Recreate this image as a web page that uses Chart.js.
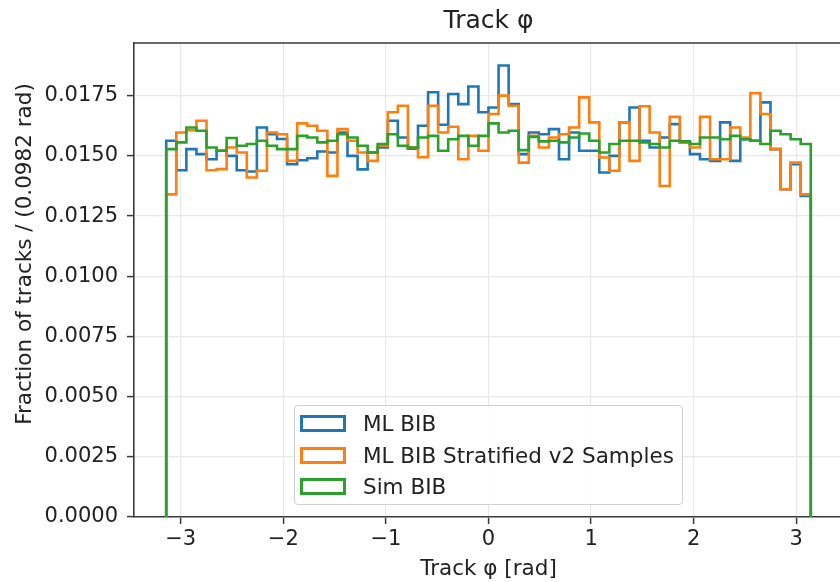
<!DOCTYPE html>
<html>
<head>
<meta charset="utf-8">
<title>Track φ</title>
<script src="https://cdn.jsdelivr.net/npm/chart.js@4.4.1/dist/chart.umd.min.js"></script>
<style>
  html, body { margin: 0; padding: 0; overflow: hidden; background: #fff; }
  #wrap { position: relative; width: 860px; height: 582px; }
  #legend {
    position: absolute; left: 294px; top: 405px; width: 387px; height: 98px;
    border: 1px solid #d0d0d0; border-radius: 4px; background: rgba(255,255,255,0.85);
    font-family: 'DejaVu Sans'; font-size: 21.5px; color: #222;
  }
  .row { position: absolute; left: 5px; height: 26px; display: flex; align-items: center; white-space: nowrap; }
  .patch { width: 40px; height: 11px; border: 3px solid; margin-right: 17px; }
</style>
</head>
<body>
<div id="wrap">
  <canvas id="grafiekCanvas"></canvas>
  <div id="legend"></div>
</div>
<script>
// Histogram: 64 bins tussen -pi en pi (breedte 0.0982 rad)
const nBins = 64;
const phiMin = -Math.PI;
const phiMax = Math.PI;

// Series (fractie per bin)
const mlBib = [0.01563, 0.01440, 0.01528, 0.01507, 0.01486, 0.01521, 0.01500, 0.01440, 0.01435, 0.01618,
  0.01590, 0.01570, 0.01465, 0.01482, 0.01490, 0.01518, 0.01514, 0.01597, 0.01500, 0.01444,
  0.01514, 0.01535, 0.01646, 0.01576, 0.01530, 0.01625, 0.01764, 0.01629, 0.01757, 0.01715,
  0.01788, 0.01681, 0.01701, 0.01875, 0.01715, 0.01507, 0.01597, 0.01590, 0.01611, 0.01486,
  0.01597, 0.01521, 0.01521, 0.01431, 0.01500, 0.01639, 0.01701, 0.01563, 0.01535, 0.01576,
  0.01632, 0.01556, 0.01507, 0.01486, 0.01479, 0.01639, 0.01479, 0.01569, 0.01563, 0.01722,
  0.01528, 0.01361, 0.01465, 0.01333];

const mlBibStratified = [0.01340, 0.01597, 0.01607, 0.01646, 0.01440, 0.01445, 0.01535, 0.01514, 0.01410, 0.01438,
  0.01597, 0.01590, 0.01479, 0.01635, 0.01625, 0.01604, 0.01417, 0.01611, 0.01563, 0.01514,
  0.01479, 0.01542, 0.01681, 0.01708, 0.01535, 0.01494, 0.01708, 0.01597, 0.01621, 0.01486,
  0.01583, 0.01521, 0.01674, 0.01750, 0.01708, 0.01472, 0.01583, 0.01535, 0.01576, 0.01590,
  0.01618, 0.01743, 0.01639, 0.01493, 0.01438, 0.01639, 0.01479, 0.01706, 0.01597, 0.01375,
  0.01662, 0.01556, 0.01535, 0.01662, 0.01486, 0.01486, 0.01618, 0.01576, 0.01760, 0.01674,
  0.01528, 0.01361, 0.01472, 0.01340];

const simBib = [0.01528, 0.01556, 0.01618, 0.01604, 0.01535, 0.01521, 0.01574, 0.01542, 0.01549, 0.01563,
  0.01542, 0.01528, 0.01528, 0.01583, 0.01576, 0.01556, 0.01563, 0.01590, 0.01576, 0.01542,
  0.01514, 0.01549, 0.01590, 0.01542, 0.01535, 0.01576, 0.01583, 0.01521, 0.01569, 0.01583,
  0.01542, 0.01583, 0.01635, 0.01597, 0.01604, 0.01524, 0.01579, 0.01560, 0.01563, 0.01556,
  0.01576, 0.01593, 0.01563, 0.01514, 0.01549, 0.01563, 0.01563, 0.01556, 0.01549, 0.01535,
  0.01563, 0.01560, 0.01549, 0.01576, 0.01576, 0.01569, 0.01583, 0.01569, 0.01563, 0.01549,
  0.01604, 0.01590, 0.01569, 0.01549];

// As-labels
const xTicks = [-3, -2, -1, 0, 1, 2, 3];
const yTicks = [0, 0.0025, 0.005, 0.0075, 0.01, 0.0125, 0.015, 0.0175];

const seriesNames = ['ML BIB', 'ML BIB Stratified v2 Samples', 'Sim BIB'];
const seriesColors = ['#1f77b4', '#ff7f0e', '#2ca02c'];
const yLabel = 'Fraction of tracks / (0.0982 rad)';
const fontFamily = "'DejaVu Sans', sans-serif";

// Zet bin-waarden om naar punten voor een 'step' lijn (zoals histtype='step')
function stepPoints(values) {
    const width = (phiMax - phiMin) / nBins;
    const pts = [{ x: phiMin, y: 0 }];
    values.forEach((v, i) => pts.push({ x: phiMin + i * width, y: v }));
    pts.push({ x: phiMax, y: 0 });
    return pts;
}

// Boven- en rechterrand van het plotvlak, plus de y-as titel
const frameBorder = {
    id: 'frameBorder',
    afterDraw(chart) {
        const { ctx, chartArea: a } = chart;
        ctx.save();
        ctx.strokeStyle = '#3a3a3a';
        ctx.lineWidth = 1.6;
        ctx.beginPath();
        ctx.moveTo(a.left, a.top);
        ctx.lineTo(a.right, a.top);
        ctx.lineTo(a.right, a.bottom);
        ctx.stroke();

        // y-as titel (iets boven het midden, zoals in de figuur)
        ctx.translate(25, 254);
        ctx.rotate(-Math.PI / 2);
        ctx.fillStyle = '#222';
        ctx.font = '21.5px ' + fontFamily;
        ctx.textAlign = 'center';
        ctx.textBaseline = 'middle';
        ctx.fillText(yLabel, 0, 0);
        ctx.restore();
    }
};

function createChart() {
    const allValues = mlBib.concat(mlBibStratified, simBib);
    const yMax = Math.max(...allValues) * 1.05;
    const xMargin = (phiMax - phiMin) * 0.05;

    const datasets = [mlBib, mlBibStratified, simBib].map((vals, i) => ({
        label: seriesNames[i],
        data: stepPoints(vals),
        borderColor: seriesColors[i],
        borderWidth: 2.6,
        stepped: 'before',
        fill: false,
        pointRadius: 0,
        order: 3 - i  // groen bovenop
    }));

    const ctx = document.getElementById('grafiekCanvas').getContext('2d');
    new Chart(ctx, {
        type: 'line',
        data: { datasets },
        options: {
            responsive: true,
            maintainAspectRatio: false,
            animation: false,
            layout: { padding: { left: 0, right: 17, top: 0, bottom: 0 } },
            plugins: {
                legend: { display: false },
                tooltip: { enabled: false },
                title: {
                    display: true,
                    text: 'Track φ',
                    fullSize: false,
                    color: '#222',
                    font: { family: fontFamily, size: 25, weight: 'normal' },
                    padding: { top: 6, bottom: 7 }
                }
            },
            scales: {
                x: {
                    type: 'linear',
                    min: phiMin - xMargin,
                    max: phiMax + xMargin,
                    afterBuildTicks: s => { s.ticks = xTicks.map(v => ({ value: v })); },
                    afterFit: s => { s.height = 65; },
                    grid: { color: '#e8e8e8', lineWidth: 1.2, tickColor: '#3a3a3a', tickLength: 7, tickWidth: 1.5 },
                    border: { color: '#3a3a3a', width: 1.6 },
                    ticks: {
                        color: '#222',
                        padding: 3,
                        maxRotation: 0,
                        font: { family: fontFamily, size: 21 },
                        callback: v => (v < 0 ? '\u2212' : '') + Math.abs(v)
                    },
                    title: {
                        display: true,
                        text: 'Track φ [rad]',
                        color: '#222',
                        font: { family: fontFamily, size: 21.5 },
                        padding: { top: 0, bottom: 0 }
                    }
                },
                y: {
                    min: 0,
                    max: yMax,
                    afterBuildTicks: s => { s.ticks = yTicks.map(v => ({ value: v })); },
                    afterFit: s => { s.width = 134; },
                    grid: { color: '#e8e8e8', lineWidth: 1.2, tickColor: '#3a3a3a', tickLength: 7, tickWidth: 1.5 },
                    border: { color: '#3a3a3a', width: 1.6 },
                    ticks: {
                        color: '#222',
                        padding: 9,
                        font: { family: fontFamily, size: 21 },
                        callback: v => v.toFixed(4)
                    }
                }
            }
        },
        plugins: [frameBorder]
    });
}

// Legenda als HTML boven het plotvlak
function buildLegend() {
    const box = document.getElementById('legend');
    const tops = [4, 36, 67];
    seriesNames.forEach((name, i) => {
        const row = document.createElement('div');
        row.className = 'row';
        row.style.top = tops[i] + 'px';
        row.innerHTML = '<span class="patch" style="border-color:' + seriesColors[i] + '"></span>' + name;
        box.appendChild(row);
    });
}

createChart();
buildLegend();
</script>
</body>
</html>
